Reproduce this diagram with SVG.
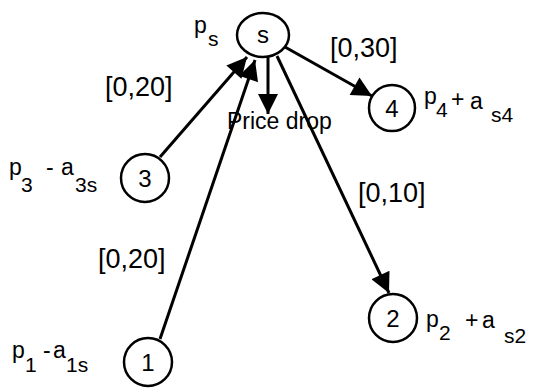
<svg xmlns="http://www.w3.org/2000/svg" width="538" height="388" viewBox="0 0 538 388">
<style>
  .node { fill: #fff; stroke: #000; stroke-width: 2.5; }
  .nl { font-family: "Liberation Sans", Arial, sans-serif; font-size: 24px; text-anchor: middle; fill: #000; }
  .t { font-family: "Liberation Sans", Arial, sans-serif; font-size: 23px; fill: #000; }
  .sub { font-family: "Liberation Sans", Arial, sans-serif; font-size: 21px; fill: #000; }
  .iv { font-family: "Liberation Sans", Arial, sans-serif; font-size: 27px; fill: #000; }
  .edge { stroke: #000; stroke-width: 3; fill: none; marker-end: url(#ah); }
</style>
<defs>
  <marker id="ah" viewBox="0 0 10 10" refX="10" refY="5" markerUnits="userSpaceOnUse" markerWidth="25" markerHeight="20" orient="auto">
    <path d="M0,0 L10,5 L0,10 z" fill="#000"/>
  </marker>
</defs>
<rect width="538" height="388" fill="#fff"/>
<g id="connectors">
  <path class="edge" d="M160,157 L247,57"/>
  <path class="edge" d="M160,339 L255,60"/>
  <path class="edge" d="M268,56 L268,114"/>
  <path class="edge" d="M285,47 L372,96"/>
  <path class="edge" d="M277,56 L389,293"/>
</g>
<g id="node-s">
  <ellipse class="node" cx="263" cy="35" rx="26" ry="22"/>
  <text class="nl" x="263" y="43">s</text>
  <text class="t" x="194" y="33">p</text><text class="sub" x="208" y="46">s</text>
</g>
<g id="node-4">
  <circle class="node" cx="392" cy="108" r="23"/>
  <text class="nl" x="392" y="117">4</text>
  <text class="t" x="424" y="104">p</text><text class="sub" x="436" y="117">4</text>
  <text class="t" x="451" y="107">+</text><text class="t" x="470" y="109">a</text>
  <text class="sub" x="491" y="122">s4</text>
</g>
<g id="node-3">
  <circle class="node" cx="145" cy="178" r="24"/>
  <text class="nl" x="145" y="187">3</text>
  <text class="t" x="9" y="175">p</text><text class="sub" x="21" y="192">3</text>
  <text class="t" x="46" y="175">-</text><text class="t" x="61" y="175">a</text>
  <text class="sub" x="75" y="192">3s</text>
</g>
<g id="node-1">
  <circle class="node" cx="148" cy="362" r="24"/>
  <text class="nl" x="148" y="371">1</text>
  <text class="t" x="12" y="358">p</text><text class="sub" x="25" y="372">1</text>
  <text class="t" x="43" y="358">-</text><text class="t" x="53" y="358">a</text>
  <text class="sub" x="66" y="372">1s</text>
</g>
<g id="node-2">
  <circle class="node" cx="393" cy="318" r="24"/>
  <text class="nl" x="393" y="327">2</text>
  <text class="t" x="426" y="327">p</text><text class="sub" x="439" y="340">2</text>
  <text class="t" x="465" y="328">+</text><text class="t" x="482" y="328">a</text>
  <text class="sub" x="504" y="343">s2</text>
</g>
<g id="labels">
  <text class="iv" x="105" y="96">[0,20]</text>
  <text class="iv" x="98" y="268">[0,20]</text>
  <text class="iv" x="330" y="57">[0,30]</text>
  <text class="iv" x="358" y="202">[0,10]</text>
  <text class="t" x="227" y="129">Price drop</text>
</g>
</svg>
